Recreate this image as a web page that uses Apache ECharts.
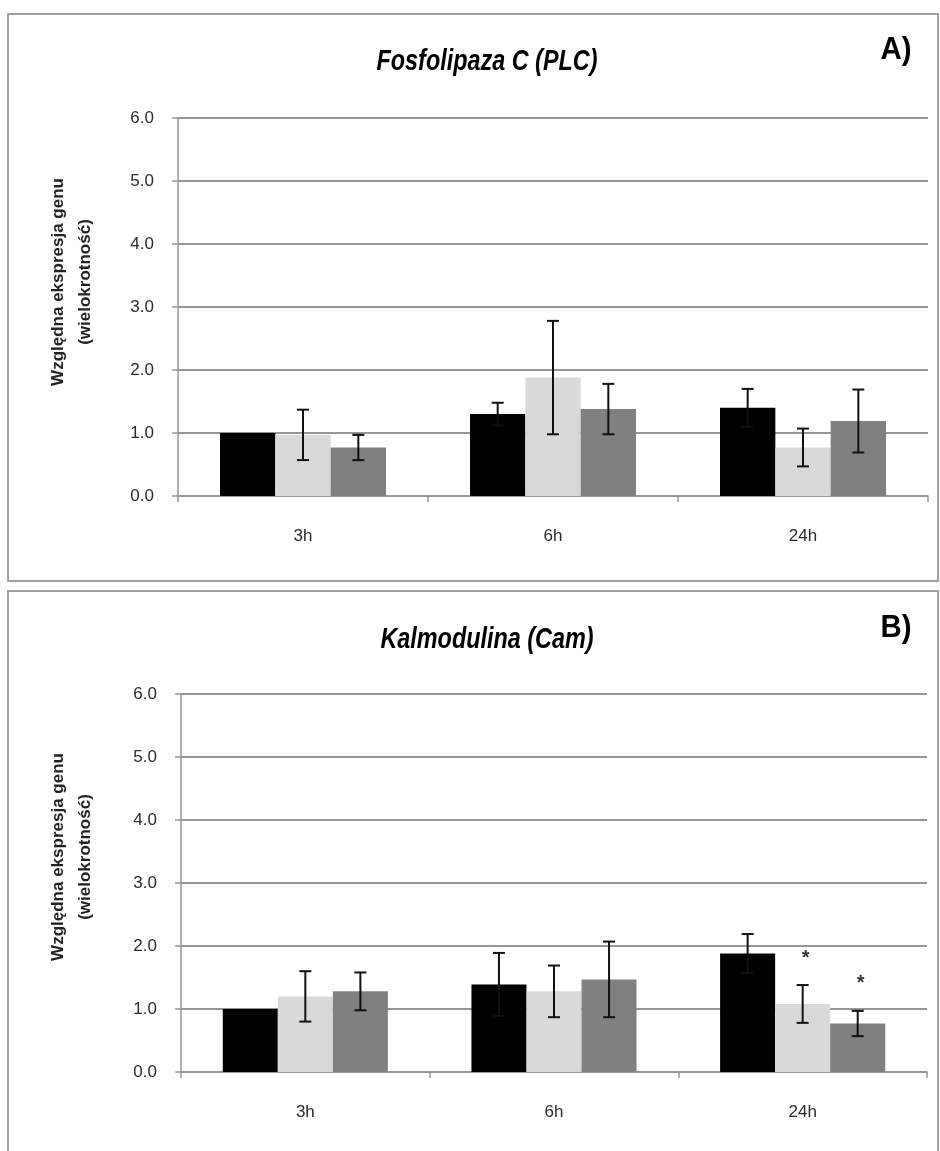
<!DOCTYPE html>
<html><head><meta charset="utf-8">
<script src="https://cdn.jsdelivr.net/npm/echarts@6/dist/echarts.min.js"></script>
<style>html,body{margin:0;padding:0;background:#fff}#c{width:940px;height:1151px}</style>
</head><body><div id="c"></div>
<script>
// ---- data ----
const categories = ['3h', '6h', '24h'];
const yMin = 0, yMax = 6, yStep = 1;
const titles = ['Fosfolipaza C (PLC)', 'Kalmodulina (Cam)'];
const panelTags = ['A)', 'B)'];
const yNameLines = ['Względna ekspresja genu', '(wielokrotność)'];

const plcBlack = [1.0, 1.3, 1.4];
const plcLight = [0.97, 1.88, 0.77];
const plcDark = [0.77, 1.38, 1.19];
const plcBlackErr = [0, 0.18, 0.3];
const plcLightErr = [0.4, 0.9, 0.3];
const plcDarkErr = [0.2, 0.4, 0.5];

const camBlack = [1.0, 1.39, 1.88];
const camLight = [1.2, 1.28, 1.08];
const camDark = [1.28, 1.47, 0.77];
const camBlackErr = [0, 0.5, 0.31];
const camLightErr = [0.4, 0.41, 0.3];
const camDarkErr = [0.3, 0.6, 0.2];
const camLightStar = [false, false, true];
const camDarkStar = [false, false, true];

// ---- styles ----
const colors = ['#000000', '#d9d9d9', '#808080'];
const GAP = 0.336;
const gridColor = '#959595';
const labelFont = "'Liberation Sans',sans-serif";

const panels = [
  {vals: [plcBlack, plcLight, plcDark], errs: [plcBlackErr, plcLightErr, plcDarkErr], stars: [null, null, null]},
  {vals: [camBlack, camLight, camDark], errs: [camBlackErr, camLightErr, camDarkErr], stars: [null, camLightStar, camDarkStar]}
];

const grids = [
  {left: 178, top: 118, width: 750, height: 378},
  {left: 181, top: 694, width: 746, height: 378}
];

const xAxes = [], yAxes = [], series = [];
grids.forEach((g, gi) => {
  xAxes.push({
    type: 'category', gridIndex: gi, data: categories,
    axisLine: {lineStyle: {color: gridColor, width: 1.5}},
    axisTick: {show: true, length: 6, lineStyle: {color: gridColor, width: 1.5}},
    axisLabel: {margin: 32, color: '#2a2a2a', fontSize: 17, fontFamily: labelFont}
  });
  yAxes.push({
    type: 'value', gridIndex: gi, min: yMin, max: yMax, interval: yStep,
    axisLine: {show: true, lineStyle: {color: gridColor, width: 1.5}},
    axisTick: {show: true, length: 6, lineStyle: {color: gridColor, width: 1.5}},
    axisLabel: {margin: 24, color: '#2a2a2a', fontSize: 17, fontFamily: labelFont, formatter: v => v.toFixed(1)},
    splitLine: {lineStyle: {color: gridColor, width: 2}}
  });
  const p = panels[gi];
  p.vals.forEach((v, si) => {
    series.push({
      type: 'bar', xAxisIndex: gi, yAxisIndex: gi, data: v,
      barGap: '0%', barCategoryGap: (GAP * 100) + '%',
      itemStyle: {color: colors[si]}, silent: true
    });
  });
  p.vals.forEach((v, si) => {
    const errs = p.errs[si];
    series.push({
      type: 'custom', xAxisIndex: gi, yAxisIndex: gi, z: 10, silent: true,
      data: v.map((val, i) => [i, val - errs[i], val + errs[i]]),
      renderItem(params, api) {
        const i = api.value(0);
        if (!errs[i]) return null;
        const hi = api.coord([i, api.value(2)]);
        const lo = api.coord([i, api.value(1)]);
        const band = api.size([1, 0])[0];
        const bw = band * (1 - GAP) / 3;
        const x = hi[0] + (si - 1) * bw;
        const cap = 6;
        const st = {stroke: '#111', lineWidth: 2};
        return {type: 'group', children: [
          {type: 'line', shape: {x1: x, y1: hi[1], x2: x, y2: lo[1]}, style: st},
          {type: 'line', shape: {x1: x - cap, y1: hi[1], x2: x + cap, y2: hi[1]}, style: st},
          {type: 'line', shape: {x1: x - cap, y1: lo[1], x2: x + cap, y2: lo[1]}, style: st}
        ]};
      }
    });
    const stars = p.stars[si];
    if (stars) {
      series.push({
        type: 'custom', xAxisIndex: gi, yAxisIndex: gi, z: 11, silent: true,
        data: v.map((val, i) => [i, val + errs[i]]),
        renderItem(params, api) {
          const i = api.value(0);
          if (!stars[i]) return null;
          const pt = api.coord([i, api.value(1)]);
          const band = api.size([1, 0])[0];
          const bw = band * (1 - GAP) / 3;
          return {type: 'text', x: pt[0] + (si - 1) * bw + 3, y: pt[1] - 27,
            style: {text: '*', font: "bold 20px 'Liberation Sans',sans-serif", fill: '#333', align: 'center', verticalAlign: 'middle'}};
        }
      });
    }
  });
});

const titleFont = "italic bold 30px 'Liberation Sans',sans-serif";
const tagFont = "bold 31px 'Liberation Sans',sans-serif";
const nameFont = "bold 17px 'Liberation Sans',sans-serif";
const graphic = [
  {type: 'rect', shape: {x: 8, y: 14, width: 930, height: 567}, style: {fill: 'none', stroke: '#a0a0a0', lineWidth: 2}, z: -1},
  {type: 'rect', shape: {x: 8, y: 591, width: 930, height: 575}, style: {fill: 'none', stroke: '#a0a0a0', lineWidth: 2}, z: -1}
];
const titleY = [62, 640];
const nameCY = [282, 857];
grids.forEach((g, gi) => {
  graphic.push(
    {type: 'text', x: 487, y: titleY[gi], scaleX: 0.78, style: {text: titles[gi], font: titleFont, fill: '#000', align: 'center', verticalAlign: 'middle'}},
    {type: 'text', x: 896, y: titleY[gi] - 12, scaleX: 0.95, style: {text: panelTags[gi], font: tagFont, fill: '#000', align: 'center', verticalAlign: 'middle'}},
    {type: 'text', x: 58, y: nameCY[gi], rotation: Math.PI / 2, style: {text: yNameLines[0], font: nameFont, fill: '#222', align: 'center', verticalAlign: 'middle'}},
    {type: 'text', x: 85, y: nameCY[gi], rotation: Math.PI / 2, style: {text: yNameLines[1], font: nameFont, fill: '#222', align: 'center', verticalAlign: 'middle'}}
  );
});

const chart = echarts.init(document.getElementById('c'), null, {renderer: 'canvas'});
chart.setOption({
  animation: false, backgroundColor: '#fff',
  grid: grids, xAxis: xAxes, yAxis: yAxes, series, graphic
});
</script></body></html>
